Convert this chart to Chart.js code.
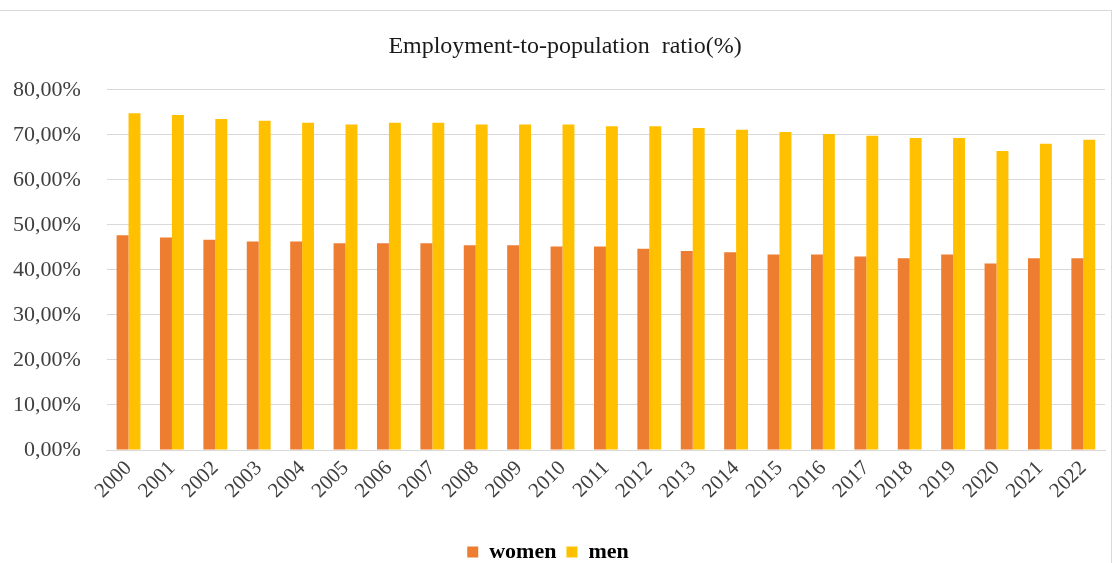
<!DOCTYPE html>
<html>
<head>
<meta charset="utf-8">
<script src="https://cdn.jsdelivr.net/npm/chart.js@4.4.1/dist/chart.umd.min.js"></script>
<style>
  html, body { margin: 0; padding: 0; background: #ffffff; overflow: hidden; }
  #wrap { position: absolute; left: 0; top: 0; width: 1118px; height: 563px; }
  #frame { position: absolute; left: 0; top: 10px; width: 1111px; height: 560px; border-top: 1px solid #d9d9d9; border-right: 1px solid #d9d9d9; }
  canvas { position: absolute; left: 0; top: 0; }
</style>
</head>
<body>
<div id="wrap">
  <div id="frame"></div>
  <canvas id="c" width="1118" height="563"></canvas>
</div>
<script>
const categories = ["2000","2001","2002","2003","2004","2005","2006","2007","2008","2009","2010","2011","2012","2013","2014","2015","2016","2017","2018","2019","2020","2021","2022"];
const women = [47.7,47.2,46.7,46.3,46.3,45.9,45.9,45.9,45.5,45.5,45.2,45.2,44.7,44.2,43.9,43.4,43.4,43.0,42.6,43.4,41.4,42.6,42.6];
const men = [74.8,74.4,73.5,73.1,72.7,72.3,72.7,72.7,72.3,72.3,72.3,71.9,71.9,71.5,71.1,70.6,70.2,69.8,69.3,69.3,66.4,68.0,68.9];
const yTicks = [0,10,20,30,40,50,60,70,80];
const titleText = "Employment-to-population  ratio(%)";

const serif = "'Liberation Serif', 'Times New Roman', serif";

// Shift the title and legend horizontally to match the reference placement
const shiftPlugin = {
  id: 'shiftBoxes',
  afterLayout(chart) {
    if (chart.titleBlock) { chart.titleBlock.left += 6; chart.titleBlock.right += 6; }
    if (chart.legend) { chart.legend.left -= 11; chart.legend.right -= 11; }
  }
};

new Chart(document.getElementById('c'), {
  type: 'bar',
  data: {
    labels: categories,
    datasets: [
      { label: 'women', data: women, backgroundColor: '#ED7D31', borderWidth: 0,
        categoryPercentage: 0.55, barPercentage: 1.0 },
      { label: 'men', data: men, backgroundColor: '#FFC000', borderWidth: 0,
        categoryPercentage: 0.55, barPercentage: 1.0 }
    ]
  },
  plugins: [shiftPlugin],
  options: {
    responsive: false,
    animation: false,
    devicePixelRatio: 1,
    layout: { padding: { left: 13, right: 13, top: 22, bottom: -10 } },
    plugins: {
      title: {
        display: true,
        text: titleText,
        color: '#1a1a1a',
        font: { family: serif, size: 24, weight: 'normal' },
        padding: { top: 10, bottom: 29 }
      },
      legend: {
        display: true,
        position: 'bottom',
        labels: {
          boxWidth: 11, boxHeight: 11,
          color: '#000000',
          font: { family: serif, size: 22, weight: 'bold' },
          padding: 10
        }
      },
      tooltip: { enabled: false }
    },
    scales: {
      x: {
        grid: { display: false, drawTicks: false },
        border: { display: true, color: '#d9d9d9', width: 1 },
        afterFit: (axis) => { axis.height = 81; axis.paddingLeft = 0; axis.paddingRight = 0; },
        ticks: {
          color: '#404040',
          font: { family: serif, size: 21 },
          maxRotation: 45, minRotation: 45,
          padding: 6
        }
      },
      y: {
        min: 0, max: 80,
        afterBuildTicks: (axis) => { axis.ticks = yTicks.map(v => ({ value: v })); },
        afterFit: (axis) => { axis.width -= axis.options.ticks.padding; },
        grid: { color: '#d9d9d9', lineWidth: 1, drawTicks: false },
        border: { display: false },
        ticks: {
          color: '#404040',
          font: { family: serif, size: 22 },
          padding: 26,
          callback: (v) => v.toFixed(2).replace('.', ',') + '%'
        }
      }
    }
  }
});
</script>
</body>
</html>
